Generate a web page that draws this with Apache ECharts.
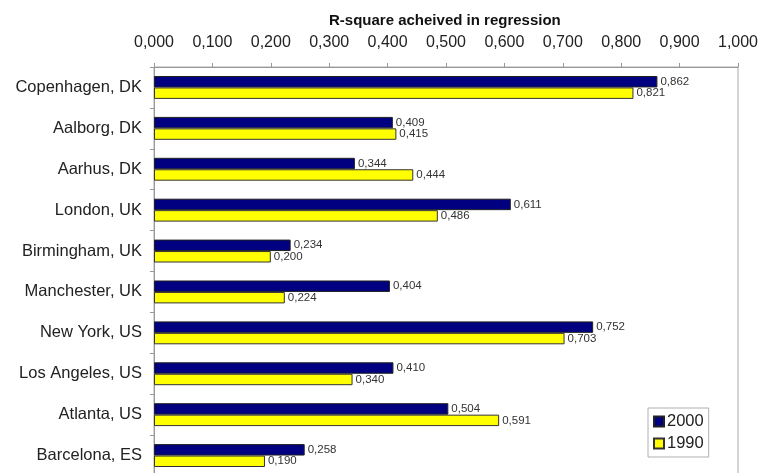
<!DOCTYPE html>
<html>
<head>
<meta charset="utf-8">
<script src="https://cdn.jsdelivr.net/npm/echarts@6/dist/echarts.min.js"></script>
<style>
  html, body { margin: 0; padding: 0; background: #fff; overflow: hidden; }
  #chart { width: 764px; height: 480px; }
</style>
</head>
<body>
<div id="chart"></div>
<script>
// Cities, top to bottom
const cities = [
  'Copenhagen, DK', 'Aalborg, DK', 'Aarhus, DK', 'London, UK', 'Birmingham, UK',
  'Manchester, UK', 'New York, US', 'Los Angeles, US', 'Atlanta, US', 'Barcelona, ES'
];
// R-square per city
const r2000 = [0.862, 0.409, 0.344, 0.611, 0.234, 0.404, 0.752, 0.410, 0.504, 0.258];
const r1990 = [0.821, 0.415, 0.444, 0.486, 0.200, 0.224, 0.703, 0.340, 0.591, 0.190];
// Axis range
const xMin = 0, xMax = 1, xStep = 0.1;

const fmt = v => v.toFixed(3).replace('.', ',');
const font = 'Liberation Sans, Arial, sans-serif';

const chart = echarts.init(document.getElementById('chart'), null, { renderer: 'canvas' });

const barLabel = {
  show: true,
  position: 'right',
  distance: 3,
  fontFamily: font,
  fontSize: 11.5,
  color: '#333',
  formatter: p => fmt(p.value)
};

chart.setOption({
  animation: false,
  backgroundColor: '#fff',
  title: {
    text: 'R-square acheived in regression',
    left: 324,
    top: 8,
    textStyle: { fontFamily: font, fontSize: 15, fontWeight: 'bold', color: '#111' }
  },
  legend: {
    orient: 'vertical',
    left: 648,
    top: 408,
    icon: 'rect',
    itemWidth: 10,
    itemHeight: 10,
    itemGap: 5,
    padding: [5, 5, 5, 5],
    borderColor: '#b0b0b0',
    borderWidth: 1,
    textStyle: { fontFamily: font, fontSize: 16.5, color: '#222', padding: [0, 0, 0, -2] },
    data: ['2000', '1990']
  },
  grid: {
    left: 154,
    top: 67,
    width: 584,
    height: 409,
    show: true,
    borderColor: '#aaaaaa',
    borderWidth: 1
  },
  xAxis: {
    type: 'value',
    position: 'top',
    min: xMin,
    max: xMax,
    interval: xStep,
    axisLine: { show: true, lineStyle: { color: '#999' } },
    axisTick: { show: true, length: 4, lineStyle: { color: '#999' } },
    splitLine: { show: false },
    axisLabel: {
      margin: 16,
      fontFamily: font,
      fontSize: 16,
      color: '#222',
      formatter: v => fmt(v)
    }
  },
  yAxis: {
    type: 'category',
    inverse: true,
    data: cities,
    axisLine: { show: true, lineStyle: { color: '#999' } },
    axisTick: { show: true, length: 4, lineStyle: { color: '#999' } },
    axisLabel: { margin: 12, fontFamily: font, fontSize: 16.5, color: '#222' }
  },
  series: [
    {
      name: '2000',
      type: 'bar',
      data: r2000,
      barGap: '0%',
      barCategoryGap: '44%',
      itemStyle: { color: '#000080', borderColor: '#222', borderWidth: 1 },
      label: barLabel
    },
    {
      name: '1990',
      type: 'bar',
      data: r1990,
      barGap: '0%',
      barCategoryGap: '44%',
      itemStyle: { color: '#ffff00', borderColor: '#333', borderWidth: 1 },
      label: barLabel
    }
  ]
});
</script>
</body>
</html>
